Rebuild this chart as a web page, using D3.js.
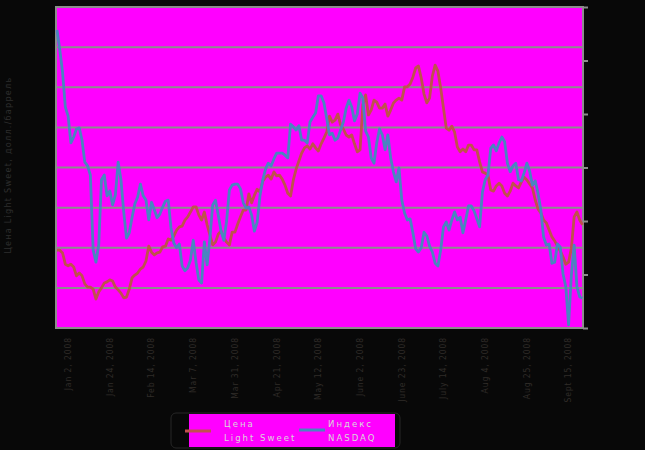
<!DOCTYPE html>
<html><head><meta charset="utf-8">
<script src="https://cdn.jsdelivr.net/npm/d3@7"></script>
<style>
html,body{margin:0;padding:0;background:#080808;}
svg{display:block;}
text{font-family:"DejaVu Sans Condensed","DejaVu Sans",sans-serif;}
</style></head>
<body>
<svg id="c" width="645" height="450"></svg>
<script>
// Labels every 15 trading days starting Jan 2, 2008
const dateLabels = ["Jan 2, 2008","Jan 24, 2008","Feb 14, 2008","Mar 7, 2008","Mar 31, 2008","Apr 21, 2008","May 12, 2008","June 2, 2008","June 23, 2008","July 14, 2008","Aug 4, 2008","Aug 25, 2008","Sept 15, 2008"];
const labelStep = 15;
const seriesNames = ["Цена Light Sweet", "Индекс NASDAQ"];
const leftTicks = [80,90,100,110,120,130,140,150,160];
const rightTicks = [2000,2100,2200,2300,2400,2500,2600];

// Light Sweet price, USD/bbl (left axis)
const oil = [99.4,99.4,98.7,95.9,95.5,95.9,95.2,93.0,93.7,93.0,
91.0,90.2,90.2,89.7,87.2,89.0,90.0,91.2,91.5,92.0,
91.7,90.2,89.5,88.7,87.5,87.7,89.7,92.5,93.2,93.7,
94.7,95.2,96.7,100.4,98.9,98.2,98.7,98.9,100.2,100.4,
102.2,101.9,102.9,104.4,105.2,105.4,106.9,107.7,108.9,110.2,
110.2,108.2,106.9,108.9,105.7,103.2,100.7,101.4,103.4,104.2,
102.4,101.4,100.7,103.9,103.9,105.9,107.7,109.4,109.4,113.4,
111.2,113.1,114.6,113.9,116.6,117.6,118.1,117.1,118.9,117.9,
118.1,117.1,115.6,113.6,112.9,116.9,119.6,121.6,123.6,124.9,
125.4,124.6,125.9,124.9,124.1,125.9,127.3,128.8,132.8,131.3,
131.8,133.3,130.6,129.6,128.1,127.6,128.1,125.9,123.9,124.4,
135.6,138.1,133.1,134.3,136.8,136.3,134.8,134.8,135.8,132.8,
134.3,136.1,136.8,137.3,136.8,140.1,140.1,140.8,142.5,144.8,
145.3,142.3,138.3,136.1,137.3,142.8,145.5,144.0,139.8,134.8,
129.8,129.3,130.3,128.8,125.1,123.9,124.6,123.9,125.6,125.6,
124.4,124.4,121.4,118.9,118.6,118.1,114.4,114.1,115.4,116.1,
115.4,113.6,112.9,114.1,116.1,115.4,114.9,116.4,117.6,116.9,
115.9,114.9,111.9,109.7,108.7,106.9,106.2,104.4,102.7,101.7,
100.4,99.2,97.7,95.9,96.4,99.9,107.7,108.9,106.9,105.7];

// NASDAQ index (right axis)
const nasdaq = [2557,2520,2478,2413,2396,2346,2357,2372,2374,2351,
2310,2303,2286,2146,2123,2155,2277,2286,2247,2256,
2230,2249,2310,2277,2217,2168,2178,2207,2232,2245,
2269,2247,2239,2202,2235,2221,2206,2213,2226,2237,
2239,2187,2159,2150,2157,2116,2107,2112,2127,2164,
2123,2090,2084,2161,2118,2168,2230,2239,2211,2181,
2164,2200,2258,2267,2269,2269,2260,2234,2224,2226,
2211,2181,2198,2247,2277,2297,2308,2303,2316,2327,
2327,2327,2323,2318,2381,2376,2370,2378,2351,2351,
2346,2385,2394,2402,2434,2434,2421,2392,2361,2364,
2351,2355,2370,2385,2411,2426,2413,2387,2400,2439,
2430,2368,2357,2318,2308,2346,2372,2361,2333,2361,
2318,2292,2273,2299,2239,2215,2202,2204,2178,2148,
2142,2150,2179,2172,2153,2142,2121,2116,2146,2189,
2198,2183,2202,2217,2202,2207,2178,2202,2228,2228,
2219,2204,2189,2254,2277,2286,2336,2342,2331,2346,
2357,2348,2308,2292,2303,2308,2277,2275,2290,2308,
2293,2267,2275,2252,2221,2170,2155,2157,2121,2123,
2157,2151,2101,2077,2006,2099,2155,2077,2058,2056];

const svg = d3.select("#c");
const L = 56, R = 583, T = 7, B = 328;

const x = d3.scaleLinear().domain([0, oil.length - 1]).range([L + 1, R - 0.5]);
const yL = d3.scaleLinear().domain([80, 160]).range([B, T]);
const yR = d3.scaleLinear().domain([2000, 2600]).range([B, T]);

// plot background
svg.append("rect").attr("x", L).attr("y", T).attr("width", R - L).attr("height", B - T).attr("fill", "#ff00ff");

// gridlines (left axis)
svg.append("g").selectAll("line").data(leftTicks).join("line")
  .attr("x1", L).attr("x2", R).attr("y1", d => yL(d)).attr("y2", d => yL(d))
  .attr("stroke", "#8c8c8c").attr("stroke-width", 2);

// left axis line
svg.append("line").attr("x1", L).attr("x2", L).attr("y1", T - 1).attr("y2", B + 1)
  .attr("stroke", "#8c8c8c").attr("stroke-width", 2);

// right axis
const rAxis = d3.axisRight(yR).tickValues(rightTicks).tickSize(5).tickFormat("");
const rg = svg.append("g").attr("transform", `translate(${R},0)`).call(rAxis);
rg.select(".domain").attr("stroke", "#8c8c8c").attr("stroke-width", 2).attr("d", `M0,${T - 1}V${B + 1}`);
rg.selectAll(".tick line").attr("stroke", "#8c8c8c").attr("stroke-width", 2);

// bottom axis line
svg.append("line").attr("x1", L - 1).attr("x2", R).attr("y1", B).attr("y2", B)
  .attr("stroke", "#8c8c8c").attr("stroke-width", 2);

// lines
const lineOil = d3.line().x((d, i) => x(i)).y(d => yL(d));
const lineNas = d3.line().x((d, i) => x(i)).y(d => yR(d));
svg.append("path").datum(oil).attr("d", lineOil).attr("fill", "none")
  .attr("stroke", "#c0504d").attr("stroke-width", 2.8).attr("stroke-linejoin", "round");
svg.append("path").datum(nasdaq).attr("d", lineNas).attr("fill", "none")
  .attr("stroke", "#4a84c0").attr("stroke-width", 2.8).attr("stroke-linejoin", "round");

// x labels (rotated)
svg.append("g").selectAll("text").data(dateLabels).join("text")
  .attr("transform", (d, k) => `translate(${x(k * labelStep) + 11},${B + 9}) rotate(-90)`)
  .attr("text-anchor", "end").attr("dy", "0.35em")
  .attr("font-size", 8.5).attr("letter-spacing", 0.9)
  .attr("fill", "#302c28").text(d => d);

// left title
svg.append("text").attr("transform", "translate(8,165) rotate(-90)")
  .attr("text-anchor", "middle").attr("dy", "0.35em")
  .attr("font-size", 9).attr("letter-spacing", 1.25)
  .attr("fill", "#2e2e2e").text("Цена Light Sweet, долл./баррель");

// legend
const lg = svg.append("g");
lg.append("rect").attr("x", 171).attr("y", 413).attr("width", 229).attr("height", 35).attr("rx", 5)
  .attr("fill", "#080808").attr("stroke", "#262626").attr("stroke-width", 1);
lg.append("rect").attr("x", 189).attr("y", 414).attr("width", 206).attr("height", 33).attr("fill", "#ff00ff");
const legendItems = [
  {name: seriesNames[0], color: "#c0504d", lx: 185, tx: 224, ly: 431, lines: ["Цена", "Light Sweet"]},
  {name: seriesNames[1], color: "#4a84c0", lx: 299, tx: 328, ly: 430, lines: ["Индекс", "NASDAQ"]}
];
legendItems.forEach(it => {
  lg.append("line").attr("x1", it.lx).attr("x2", it.lx + 26).attr("y1", it.ly).attr("y2", it.ly)
    .attr("stroke", it.color).attr("stroke-width", 3);
  const t = lg.append("text").attr("font-size", 9.5).attr("letter-spacing", 2.0).attr("fill", "#d8d8d8");
  it.lines.forEach((s, j) => t.append("tspan").attr("x", it.tx).attr("y", 427 + j * 13.5).text(s));
});
</script>
</body></html>
